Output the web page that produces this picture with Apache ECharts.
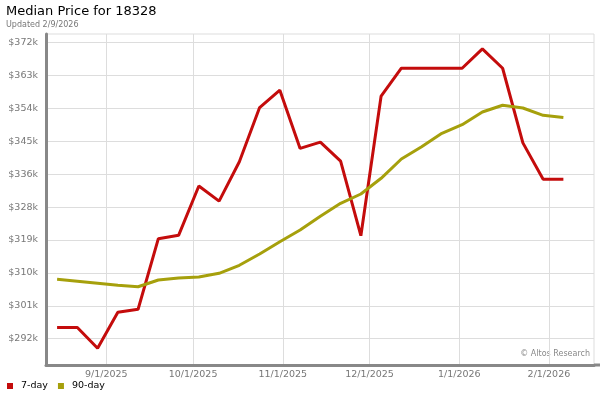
<!DOCTYPE html>
<html>
<head>
<meta charset="utf-8">
<script src="https://cdn.jsdelivr.net/npm/echarts@6/dist/echarts.min.js"></script>
<style>
  html, body { margin: 0; padding: 0; background: #fff; }
  #chart { width: 600px; height: 400px; }
</style>
</head>
<body>
<div id="chart"></div>
<script>
// weekly points, Fridays from 8/15/2025 to 2/6/2026
const weekDates = [
  '2025-08-15', '2025-08-22', '2025-08-29', '2025-09-05', '2025-09-12', '2025-09-19',
  '2025-09-26', '2025-10-03', '2025-10-10', '2025-10-17', '2025-10-24', '2025-10-31',
  '2025-11-07', '2025-11-14', '2025-11-21', '2025-11-28', '2025-12-05', '2025-12-12',
  '2025-12-19', '2025-12-26', '2026-01-02', '2026-01-09', '2026-01-16', '2026-01-23',
  '2026-01-30', '2026-02-06'
];
const sevenDay = [
  295200, 295200, 289600, 299300, 300100, 319100,
  320000, 333300, 329200, 339800, 354400, 359100,
  343400, 345100, 340000, 319900, 357500, 365000,
  365000, 365000, 365000, 370200, 365000, 344900,
  335100, 335100
];
const ninetyDay = [
  308160, 307620, 307080, 306540, 306160, 307970,
  308510, 308780, 309770, 311930, 314970, 318280,
  321430, 325120, 328620, 331130, 335360, 340550,
  343870, 347470, 349790, 353210, 355020, 354290,
  352320, 351730
];

const yTickValues = [292160, 301020, 309880, 318740, 327600, 336460, 345320, 354180, 363040, 371900];
const yTickLabels = ['$292k', '$301k', '$310k', '$319k', '$328k', '$336k', '$345k', '$354k', '$363k', '$372k'];
const xTickDates = ['2025-09-01', '2025-10-01', '2025-11-01', '2025-12-01', '2026-01-01', '2026-02-01'];
const xTickLabels = ['9/1/2025', '10/1/2025', '11/1/2025', '12/1/2025', '1/1/2026', '2/1/2026'];

function ts(d) {
  const p = d.split('-').map(Number);
  return Date.UTC(p[0], p[1] - 1, p[2]);
}
const xTickValues = xTickDates.map(ts);
const day = 86400000;

const chart = echarts.init(document.getElementById('chart'));
const font = 'DejaVu Sans';

chart.setOption({
  animation: false,
  title: {
    text: 'Median Price for 18328',
    subtext: 'Updated 2/9/2026',
    left: 6,
    top: 5,
    padding: 0,
    itemGap: 3,
    textStyle: { fontFamily: font, fontSize: 13, fontWeight: 'normal', color: '#000' },
    subtextStyle: { fontFamily: font, fontSize: 8, color: '#777' }
  },
  legend: {
    left: 7,
    top: 381,
    padding: 0,
    itemGap: 10,
    itemWidth: 6,
    itemHeight: 6,
    icon: 'rect',
    textStyle: { fontFamily: font, fontSize: 9.5, color: '#000', padding: [0, 0, 0, 3] },
    data: ['7-day', '90-day']
  },
  grid: {
    left: 46,
    right: 6,
    top: 34,
    bottom: 35,
    show: true,
    borderColor: '#ddd',
    borderWidth: 1
  },
  xAxis: {
    type: 'value',
    min: ts('2025-08-11') + 4 * 3600000,
    max: ts('2026-02-16') + 14 * 3600000,
    axisLine: { lineStyle: { color: '#888', width: 3 } },
    axisTick: { show: false, customValues: xTickValues },
    splitLine: { show: true, lineStyle: { color: '#ddd', width: 1 } },
    axisLabel: {
      customValues: xTickValues,
      margin: 5,
      color: '#777',
      fontFamily: font,
      fontSize: 9.5,
      formatter: function (v) {
        const i = xTickValues.findIndex(t => Math.abs(t - v) < day / 2);
        return i >= 0 ? xTickLabels[i] : '';
      }
    }
  },
  yAxis: {
    type: 'value',
    min: 285080,
    max: 374220,
    axisLine: { show: true, lineStyle: { color: '#888', width: 3 } },
    axisTick: { show: false, customValues: yTickValues },
    splitLine: { show: true, lineStyle: { color: '#ddd', width: 1 } },
    axisLabel: {
      customValues: yTickValues,
      margin: 8,
      color: '#777',
      fontFamily: font,
      fontSize: 9.5,
      formatter: function (v) {
        const i = yTickValues.findIndex(t => Math.abs(t - v) < 1);
        return i >= 0 ? yTickLabels[i] : '';
      }
    }
  },
  graphic: [
    {
      type: 'rect',
      shape: { x: 594, y: 363.5, width: 6, height: 3 },
      style: { fill: '#888' }
    },
    {
      type: 'text',
      right: 10,
      top: 350,
      style: { text: '\u00a9 Altos Research', fontFamily: font, fontSize: 8, fill: '#888' }
    }
  ],
  series: [
    {
      name: '7-day',
      type: 'line',
      showSymbol: false,
      color: '#c40c0c',
      lineStyle: { width: 3 },
      data: weekDates.map((d, i) => [ts(d), sevenDay[i]])
    },
    {
      name: '90-day',
      type: 'line',
      showSymbol: false,
      color: '#a6a00c',
      lineStyle: { width: 3 },
      data: weekDates.map((d, i) => [ts(d), ninetyDay[i]])
    }
  ]
});
</script>
</body>
</html>
